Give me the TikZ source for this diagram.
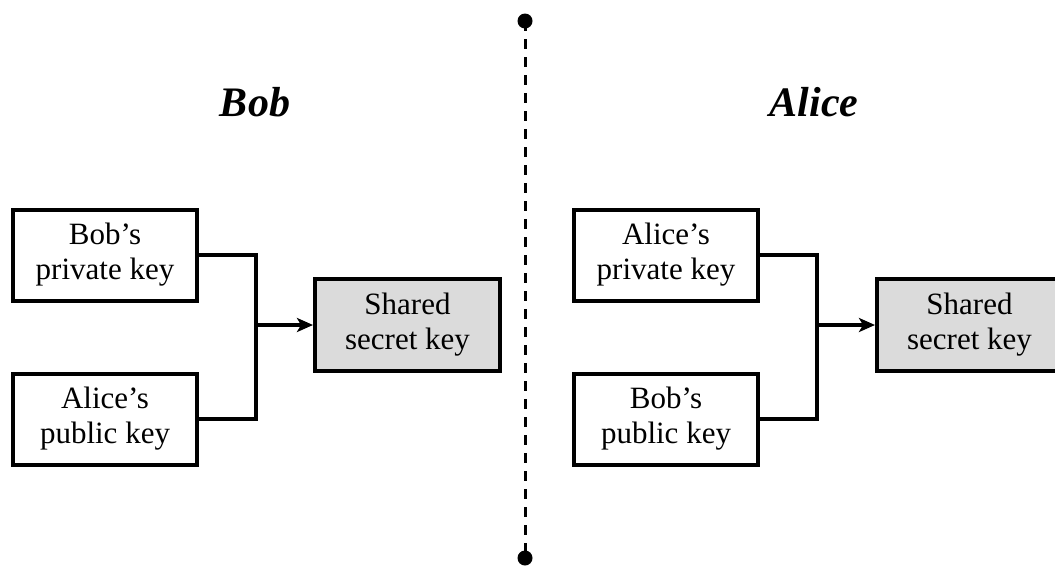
\documentclass[tikz,border=0pt]{standalone}
\usepackage{fontspec}
\setmainfont{Liberation Serif}
\usetikzlibrary{arrows.meta}
\begin{document}
\begin{tikzpicture}[x=1pt,y=-1pt,
  keybox/.style={draw, line width=4pt, rectangle, align=center,
    minimum width=184pt, minimum height=91pt, inner sep=0pt,
    font=\fontsize{31}{35}\selectfont},
  sharedbox/.style={keybox, fill=black!14, minimum width=185pt, minimum height=92pt},
  wire/.style={line width=3.5pt},
  feed/.style={wire, -{Stealth[length=16pt,width=14pt,inset=4pt]}},
  title/.style={anchor=base, font=\fontsize{42}{42}\selectfont\bfseries\itshape},
  divider/.style={line width=3pt, dash pattern=on 10pt off 8pt},
  dotend/.style={circle, fill=black, inner sep=0pt, minimum size=15pt}
]
\useasboundingbox (0,0) rectangle (1055,566);

% divider between the two parties
\node[dotend] (dtop) at (525,21) {};
\node[dotend] (dbot) at (525,558) {};
\draw[divider] (dtop.center) -- (dbot.center);

% party names
\node[title] (tbob) at (255,116) {Bob};
\node[title] (talice) at (814,116) {Alice};

% Bob's side
\node[keybox] (bpriv) at (105,255) {Bob's\\private key};
\node[keybox] (bpub) at (105,419) {Alice's\\public key};
\node[sharedbox] (bshared) at (407.5,325) {Shared\\secret key};
\coordinate (bjoin) at (256,325);
\draw[wire] (bpriv.east) -| (bjoin) |- (bpub.east);
\draw[feed] (bjoin) -- (bshared.west);

% Alice's side
\node[keybox] (apriv) at (666,255) {Alice's\\private key};
\node[keybox] (apub) at (666,419) {Bob's\\public key};
\node[sharedbox] (ashared) at (969.5,325) {Shared\\secret key};
\coordinate (ajoin) at (817,325);
\draw[wire] (apriv.east) -| (ajoin) |- (apub.east);
\draw[feed] (ajoin) -- (ashared.west);
\end{tikzpicture}
\end{document}
